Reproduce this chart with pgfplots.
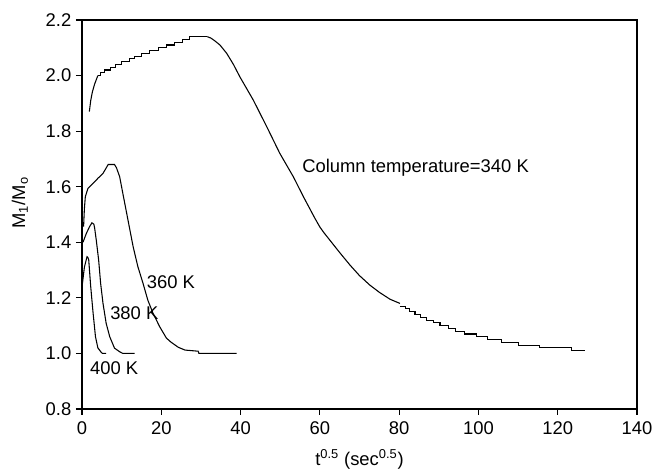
\documentclass[border=0pt]{standalone}
\usepackage{fontspec}
\setmainfont{Liberation Sans}
\usepackage{pgfplots}
\pgfplotsset{compat=1.18}
\newcommand{\chartfont}{\fontsize{13.8}{16.5}\selectfont}
\begin{document}
\begin{tikzpicture}[font=\chartfont]
\begin{axis}[
  scale only axis, width=416.25pt, height=291.75pt,
  xmin=0, xmax=140, ymin=0.8, ymax=2.2,
  xtick={0,20,40,60,80,100,120,140},
  ytick={0.8,1,1.2,1.4,1.6,1.8,2,2.2},
  yticklabel style={/pgf/number format/.cd,fixed,fixed zerofill,precision=1},
  /pgf/number format/assume math mode=true,
  tick label style={font=\chartfont},
  label style={font=\chartfont},
  tick align=outside, tick pos=left,
  major tick length=4.5pt,
  axis line style={line width=0.8pt},
  every tick/.style={line width=0.8pt, black},
  xticklabel style={yshift=-1.5pt},
  xlabel={t\textsuperscript{0.5} (sec\textsuperscript{0.5})},
  ylabel={M\textsubscript{1}/M\textsubscript{o}},
  xlabel style={at={(axis description cs:0.5,-0.13)}, anchor=center},
  ylabel style={at={(axis description cs:-0.112,0.53)}, anchor=center, rotate=0},
  clip=false,
  plt/.style={black, line width=0.8pt, no marks},
]
\coordinate (SW) at (rel axis cs:0,0);
% 340 K
\addplot[plt] coordinates {(1.85,1.87)(2.2,1.91)(2.6,1.94)(3.2,1.97)(4.0,2.00)};
\addplot[plt, const plot] coordinates {(4.0,2.00)(4.7,2.01)(5.7,2.02)(7.1,2.03)(8.5,2.04)(10.0,2.05)(11.9,2.06)(13.3,2.07)(15.0,2.08)(17.1,2.09)(19.2,2.10)(21.4,2.11)(23.4,2.12)(25.3,2.13)(27.2,2.14)(31.6,2.14)};
\addplot[plt] coordinates {(31.6,2.14)(32.5,2.135)(33.5,2.125)(34.8,2.11)(36.5,2.08)(38.2,2.04)(39.8,1.996)(43.2,1.912)(46.6,1.816)(49.9,1.72)(53.3,1.636)(56,1.56)(58.8,1.485)(60,1.455)(61,1.435)(62.5,1.408)(65,1.363)(67.6,1.318)(70,1.28)(72.6,1.246)(75,1.22)(77.7,1.195)(80.2,1.18)};
\addplot[plt, const plot] coordinates {(80.2,1.17)(81.5,1.16)(82.7,1.15)(84.0,1.14)(85.4,1.13)(86.9,1.12)(88.6,1.11)(90.3,1.10)(92.4,1.09)(94.3,1.08)(96.6,1.07)(99.4,1.06)(102.2,1.05)(105.8,1.04)(110.0,1.03)(115.5,1.02)(123.5,1.01)(126.9,1.01)};
% 360 K
\addplot[plt] coordinates {(0.4,1.456)(0.6,1.52)(0.84,1.564)(1.5,1.594)(2.8,1.612)(4.0,1.630)(5.3,1.648)(6.0,1.665)(6.6,1.68)(8.2,1.68)(8.7,1.668)(9.5,1.636)(10.3,1.576)(11.6,1.48)(12.9,1.384)(14.1,1.312)(15.4,1.252)(16.6,1.192)(17.9,1.145)(19.6,1.096)(21.3,1.055)(22.5,1.04)(24.3,1.022)(26.0,1.012)(29.3,1.008)(29.5,1.0)(39.0,1.0)};
% 380 K
\addplot[plt] coordinates {(0.25,1.40)(1.1,1.432)(1.9,1.456)(2.5,1.47)(3.0,1.465)(3.2,1.45)(3.6,1.408)(4.2,1.336)(4.7,1.252)(5.3,1.18)(6.1,1.108)(7.0,1.06)(8.2,1.019)(9.5,1.006)(10.3,1.0)(13.3,1.0)};
% 400 K
\addplot[plt] coordinates {(0.1,1.25)(0.6,1.31)(1.26,1.348)(1.5,1.345)(1.7,1.336)(2.2,1.24)(2.8,1.145)(3.4,1.06)(4.0,1.02)(4.9,1.003)(5.2,1.0)(6.1,1.0)};
\node[anchor=west, inner sep=0pt] at (axis cs:55.5,1.667) {Column temperature=340 K};
\node[anchor=west, inner sep=0pt] at (axis cs:16.3,1.258) {360 K};
\node[anchor=west, inner sep=0pt] at (axis cs:7.06,1.145) {380 K};
\node[anchor=west, inner sep=0pt] at (axis cs:2.0,0.947) {400 K};
\end{axis}
\pgfresetboundingbox
\path (SW) ++(-61.5pt,-48pt) rectangle ++(492pt,354.75pt);
\end{tikzpicture}
\end{document}
